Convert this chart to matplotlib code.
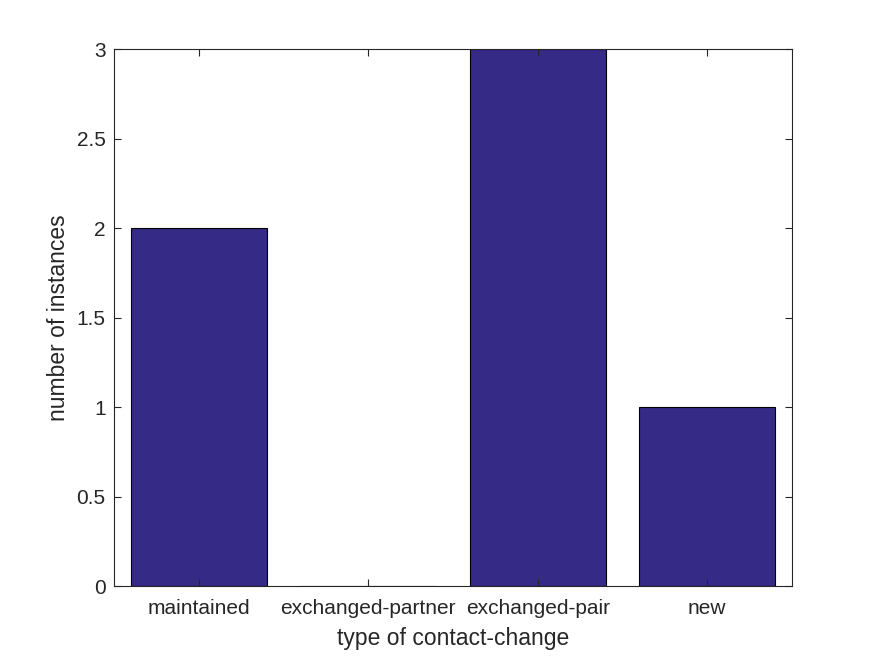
import matplotlib.pyplot as plt

plt.rcParams['font.family'] = ['Liberation Sans', 'DejaVu Sans']

categories = ['maintained', 'exchanged-partner', 'exchanged-pair', 'new']
counts = [2, 0, 3, 1]

fig = plt.figure(figsize=(8.75, 6.56), dpi=100)
ax = fig.add_axes([0.1303, 0.1067, 0.7748, 0.8186])

x = range(1, len(categories) + 1)
ax.bar(x, counts, width=0.8, color='#352A86', edgecolor='black', linewidth=0.8)

ax.set_xlim(0.5, 4.5)
ax.set_ylim(0, 3)
ax.set_xticks(list(x))
ax.set_xticklabels(categories)
ax.set_yticks([0, 0.5, 1, 1.5, 2, 2.5, 3])
ax.set_yticklabels(['0', '0.5', '1', '1.5', '2', '2.5', '3'])

grey = '#262626'
for s in ax.spines.values():
    s.set_color(grey)
    s.set_linewidth(0.8)
ax.tick_params(direction='in', top=True, right=True, length=5, width=0.8,
               color=grey, labelcolor=grey, labelsize=15)
ax.tick_params(axis='x', pad=9)
ax.tick_params(axis='y', pad=6)

ax.set_xlabel('type of contact-change', fontsize=16.5, color=grey, labelpad=7)
ax.set_ylabel('number of instances', fontsize=16.5, color=grey, labelpad=5)

fig.savefig('out.png', dpi=100)
